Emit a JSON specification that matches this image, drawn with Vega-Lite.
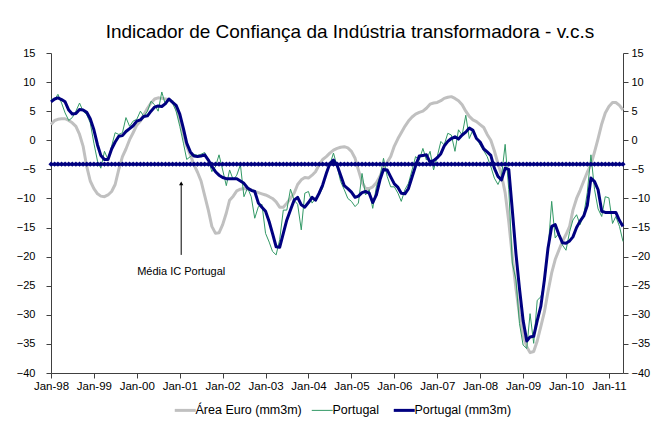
{
"$schema": "https://vega.github.io/schema/vega-lite/v6.json",
"autosize": "none",
"width": 572,
"height": 320,
"padding": {"left": 51, "top": 53, "right": 37, "bottom": 48},
"background": "white",
"config": {
 "view": {"stroke": null},
 "font": "Liberation Sans",
 "axis": {"grid": false, "domainColor": "#404040", "tickColor": "#404040", "labelColor": "#000000", "labelFont": "Liberation Sans", "labelFontSize": 11, "tickSize": 5, "title": null}
},
"title": {"text": "Indicador de Confiança da Indústria transformadora - v.c.s", "font": "Liberation Sans", "fontSize": 19, "fontWeight": "normal", "color": "#000000", "offset": 5, "dx": 13},
"datasets": {
 "ic": [
{"d":"1998-01-01","e":2.7,"p":7.1,"p3":6.6},
{"d":"1998-02-01","e":3.4,"p":7.0,"p3":7.1},
{"d":"1998-03-01","e":3.6,"p":7.9,"p3":7.3},
{"d":"1998-04-01","e":3.7,"p":6.4,"p3":7.0},
{"d":"1998-05-01","e":3.7,"p":4.7,"p3":6.6},
{"d":"1998-06-01","e":3.4,"p":3.4,"p3":5.2},
{"d":"1998-07-01","e":3.0,"p":3.9,"p3":4.5},
{"d":"1998-08-01","e":2.4,"p":5.0,"p3":4.6},
{"d":"1998-09-01","e":1.0,"p":6.4,"p3":5.3},
{"d":"1998-10-01","e":-1.0,"p":5.0,"p3":5.2},
{"d":"1998-11-01","e":-4.5,"p":4.4,"p3":4.8},
{"d":"1998-12-01","e":-7.0,"p":3.0,"p3":3.7},
{"d":"1999-01-01","e":-8.3,"p":-0.5,"p3":1.8},
{"d":"1999-02-01","e":-9.2,"p":-3.6,"p3":-0.8},
{"d":"1999-03-01","e":-9.6,"p":-4.8,"p3":-2.6},
{"d":"1999-04-01","e":-9.7,"p":-1.9,"p3":-3.3},
{"d":"1999-05-01","e":-9.4,"p":-3.3,"p3":-3.3},
{"d":"1999-06-01","e":-8.8,"p":-1.0,"p3":-1.5},
{"d":"1999-07-01","e":-7.6,"p":1.3,"p3":-0.3},
{"d":"1999-08-01","e":-5.0,"p":1.0,"p3":0.7},
{"d":"1999-09-01","e":-2.8,"p":1.3,"p3":0.8},
{"d":"1999-10-01","e":-1.5,"p":3.9,"p3":1.5},
{"d":"1999-11-01","e":0.1,"p":2.4,"p3":2.0},
{"d":"1999-12-01","e":1.3,"p":3.3,"p3":2.5},
{"d":"2000-01-01","e":2.6,"p":3.6,"p3":3.3},
{"d":"2000-02-01","e":3.3,"p":5.0,"p3":3.5},
{"d":"2000-03-01","e":4.4,"p":4.1,"p3":4.1},
{"d":"2000-04-01","e":5.5,"p":5.0,"p3":4.2},
{"d":"2000-05-01","e":6.4,"p":6.7,"p3":5.0},
{"d":"2000-06-01","e":7.1,"p":6.1,"p3":5.7},
{"d":"2000-07-01","e":7.3,"p":5.0,"p3":5.9},
{"d":"2000-08-01","e":7.2,"p":8.3,"p3":5.8},
{"d":"2000-09-01","e":7.1,"p":6.1,"p3":6.3},
{"d":"2000-10-01","e":7.0,"p":7.0,"p3":7.1},
{"d":"2000-11-01","e":6.6,"p":6.4,"p3":6.5},
{"d":"2000-12-01","e":5.5,"p":5.0,"p3":6.0},
{"d":"2001-01-01","e":3.6,"p":2.4,"p3":4.5},
{"d":"2001-02-01","e":1.0,"p":-0.5,"p3":2.0},
{"d":"2001-03-01","e":-1.0,"p":-3.3,"p3":-0.5},
{"d":"2001-04-01","e":-2.5,"p":-2.8,"p3":-2.0},
{"d":"2001-05-01","e":-4.2,"p":-2.4,"p3":-2.7},
{"d":"2001-06-01","e":-5.5,"p":-2.6,"p3":-2.8},
{"d":"2001-07-01","e":-7.0,"p":-2.4,"p3":-2.7},
{"d":"2001-08-01","e":-9.5,"p":-2.1,"p3":-2.5},
{"d":"2001-09-01","e":-12.0,"p":-3.4,"p3":-3.4},
{"d":"2001-10-01","e":-14.8,"p":-5.4,"p3":-4.5},
{"d":"2001-11-01","e":-16.0,"p":-4.5,"p3":-5.4},
{"d":"2001-12-01","e":-15.9,"p":-2.5,"p3":-6.0},
{"d":"2002-01-01","e":-14.5,"p":-5.1,"p3":-6.4},
{"d":"2002-02-01","e":-12.5,"p":-7.8,"p3":-6.6},
{"d":"2002-03-01","e":-10.3,"p":-5.1,"p3":-6.6},
{"d":"2002-04-01","e":-9.6,"p":-6.8,"p3":-6.6},
{"d":"2002-05-01","e":-8.7,"p":-6.0,"p3":-6.6},
{"d":"2002-06-01","e":-8.4,"p":-4.2,"p3":-7.0},
{"d":"2002-07-01","e":-8.3,"p":-9.7,"p3":-7.4},
{"d":"2002-08-01","e":-8.4,"p":-8.2,"p3":-8.2},
{"d":"2002-09-01","e":-8.5,"p":-9.7,"p3":-8.6},
{"d":"2002-10-01","e":-8.8,"p":-13.4,"p3":-8.8},
{"d":"2002-11-01","e":-9.0,"p":-11.4,"p3":-10.8},
{"d":"2002-12-01","e":-9.2,"p":-11.0,"p3":-11.5},
{"d":"2003-01-01","e":-9.4,"p":-16.0,"p3":-12.2},
{"d":"2003-02-01","e":-9.7,"p":-17.5,"p3":-14.0},
{"d":"2003-03-01","e":-10.0,"p":-19.1,"p3":-16.0},
{"d":"2003-04-01","e":-10.6,"p":-19.7,"p3":-18.3},
{"d":"2003-05-01","e":-11.5,"p":-17.1,"p3":-18.4},
{"d":"2003-06-01","e":-11.5,"p":-12.0,"p3":-16.0},
{"d":"2003-07-01","e":-10.8,"p":-12.0,"p3":-13.7},
{"d":"2003-08-01","e":-10.0,"p":-8.4,"p3":-12.0},
{"d":"2003-09-01","e":-9.1,"p":-10.3,"p3":-10.3},
{"d":"2003-10-01","e":-7.6,"p":-11.0,"p3":-9.8},
{"d":"2003-11-01","e":-6.8,"p":-15.4,"p3":-11.1},
{"d":"2003-12-01","e":-6.4,"p":-9.1,"p3":-11.5},
{"d":"2004-01-01","e":-6.5,"p":-8.8,"p3":-10.7},
{"d":"2004-02-01","e":-6.0,"p":-10.8,"p3":-9.8},
{"d":"2004-03-01","e":-5.4,"p":-10.0,"p3":-10.3},
{"d":"2004-04-01","e":-4.2,"p":-9.4,"p3":-9.1},
{"d":"2004-05-01","e":-3.3,"p":-8.2,"p3":-7.7},
{"d":"2004-06-01","e":-2.8,"p":-5.4,"p3":-5.7},
{"d":"2004-07-01","e":-2.2,"p":-4.2,"p3":-4.0},
{"d":"2004-08-01","e":-1.7,"p":-2.2,"p3":-3.4},
{"d":"2004-09-01","e":-1.4,"p":-4.5,"p3":-4.3},
{"d":"2004-10-01","e":-1.2,"p":-7.1,"p3":-6.0},
{"d":"2004-11-01","e":-1.1,"p":-8.5,"p3":-7.8},
{"d":"2004-12-01","e":-1.3,"p":-10.0,"p3":-8.3},
{"d":"2005-01-01","e":-1.9,"p":-10.5,"p3":-8.9},
{"d":"2005-02-01","e":-3.1,"p":-11.4,"p3":-9.8},
{"d":"2005-03-01","e":-5.1,"p":-10.8,"p3":-9.6},
{"d":"2005-04-01","e":-7.2,"p":-5.7,"p3":-9.0},
{"d":"2005-05-01","e":-8.3,"p":-9.4,"p3":-8.8},
{"d":"2005-06-01","e":-8.3,"p":-8.5,"p3":-9.1},
{"d":"2005-07-01","e":-8.0,"p":-11.7,"p3":-10.7},
{"d":"2005-08-01","e":-7.3,"p":-8.0,"p3":-9.4},
{"d":"2005-09-01","e":-6.2,"p":-6.2,"p3":-6.8},
{"d":"2005-10-01","e":-4.7,"p":-3.1,"p3":-5.0},
{"d":"2005-11-01","e":-3.8,"p":-6.2,"p3":-5.1},
{"d":"2005-12-01","e":-2.8,"p":-8.0,"p3":-6.3},
{"d":"2006-01-01","e":-1.0,"p":-8.0,"p3":-7.5},
{"d":"2006-02-01","e":0.3,"p":-9.1,"p3":-8.1},
{"d":"2006-03-01","e":1.3,"p":-10.5,"p3":-9.1},
{"d":"2006-04-01","e":2.4,"p":-8.5,"p3":-9.2},
{"d":"2006-05-01","e":3.3,"p":-7.4,"p3":-8.3},
{"d":"2006-06-01","e":4.0,"p":-5.1,"p3":-6.3},
{"d":"2006-07-01","e":4.5,"p":-2.8,"p3":-4.4},
{"d":"2006-08-01","e":4.8,"p":-3.4,"p3":-2.7},
{"d":"2006-09-01","e":5.0,"p":-1.4,"p3":-2.6},
{"d":"2006-10-01","e":5.5,"p":-3.4,"p3":-2.5},
{"d":"2006-11-01","e":6.2,"p":-1.9,"p3":-3.8},
{"d":"2006-12-01","e":6.4,"p":-5.1,"p3":-3.5},
{"d":"2007-01-01","e":6.5,"p":-2.8,"p3":-3.0},
{"d":"2007-02-01","e":6.8,"p":-0.2,"p3":-2.3},
{"d":"2007-03-01","e":7.2,"p":-0.8,"p3":-1.0},
{"d":"2007-04-01","e":7.4,"p":1.2,"p3":-0.2},
{"d":"2007-05-01","e":7.5,"p":0.9,"p3":0.3},
{"d":"2007-06-01","e":7.2,"p":-1.9,"p3":0.6},
{"d":"2007-07-01","e":6.8,"p":1.8,"p3":0.2},
{"d":"2007-08-01","e":6.1,"p":0.9,"p3":0.9},
{"d":"2007-09-01","e":5.0,"p":4.3,"p3":1.4},
{"d":"2007-10-01","e":4.1,"p":0.3,"p3":2.1},
{"d":"2007-11-01","e":3.5,"p":1.8,"p3":1.7},
{"d":"2007-12-01","e":3.2,"p":0.3,"p3":0.3},
{"d":"2008-01-01","e":2.7,"p":-0.8,"p3":-0.3},
{"d":"2008-02-01","e":2.2,"p":-1.8,"p3":-1.5},
{"d":"2008-03-01","e":1.0,"p":-2.8,"p3":-2.0},
{"d":"2008-04-01","e":0.0,"p":-4.5,"p3":-2.6},
{"d":"2008-05-01","e":-1.8,"p":-6.5,"p3":-4.8},
{"d":"2008-06-01","e":-4.0,"p":-7.6,"p3":-6.2},
{"d":"2008-07-01","e":-6.0,"p":-6.2,"p3":-6.8},
{"d":"2008-08-01","e":-9.0,"p":-0.7,"p3":-4.8},
{"d":"2008-09-01","e":-14.0,"p":-8.5,"p3":-5.0},
{"d":"2008-10-01","e":-20.0,"p":-21.1,"p3":-12.0},
{"d":"2008-11-01","e":-25.5,"p":-24.0,"p3":-19.5},
{"d":"2008-12-01","e":-30.0,"p":-31.5,"p3":-25.5},
{"d":"2009-01-01","e":-33.5,"p":-35.2,"p3":-31.0},
{"d":"2009-02-01","e":-35.5,"p":-35.8,"p3":-34.5},
{"d":"2009-03-01","e":-36.5,"p":-29.8,"p3":-33.8},
{"d":"2009-04-01","e":-36.3,"p":-34.9,"p3":-33.7},
{"d":"2009-05-01","e":-34.5,"p":-27.5,"p3":-31.0},
{"d":"2009-06-01","e":-32.0,"p":-26.9,"p3":-28.5},
{"d":"2009-07-01","e":-29.5,"p":-24.6,"p3":-24.0},
{"d":"2009-08-01","e":-26.0,"p":-18.9,"p3":-18.5},
{"d":"2009-09-01","e":-22.8,"p":-10.5,"p3":-14.8},
{"d":"2009-10-01","e":-20.5,"p":-16.8,"p3":-14.5},
{"d":"2009-11-01","e":-18.9,"p":-16.0,"p3":-16.2},
{"d":"2009-12-01","e":-17.4,"p":-18.0,"p3":-17.6},
{"d":"2010-01-01","e":-16.2,"p":-18.9,"p3":-17.7},
{"d":"2010-02-01","e":-14.8,"p":-15.7,"p3":-17.3},
{"d":"2010-03-01","e":-12.0,"p":-13.7,"p3":-16.6},
{"d":"2010-04-01","e":-10.0,"p":-12.8,"p3":-15.0},
{"d":"2010-05-01","e":-8.6,"p":-14.5,"p3":-13.9},
{"d":"2010-06-01","e":-7.0,"p":-12.8,"p3":-13.0},
{"d":"2010-07-01","e":-5.5,"p":-9.0,"p3":-11.2},
{"d":"2010-08-01","e":-4.2,"p":-2.5,"p3":-6.5},
{"d":"2010-09-01","e":-2.0,"p":-8.5,"p3":-7.1},
{"d":"2010-10-01","e":0.3,"p":-11.8,"p3":-8.5},
{"d":"2010-11-01","e":2.8,"p":-13.1,"p3":-12.2},
{"d":"2010-12-01","e":4.7,"p":-9.7,"p3":-12.4},
{"d":"2011-01-01","e":5.8,"p":-9.9,"p3":-12.4},
{"d":"2011-02-01","e":6.5,"p":-14.3,"p3":-12.4},
{"d":"2011-03-01","e":6.5,"p":-13.1,"p3":-12.4},
{"d":"2011-04-01","e":6.0,"p":-14.8,"p3":-13.8},
{"d":"2011-05-01","e":5.2,"p":-17.4,"p3":-14.8}
 ],
 "ann": [
  {"d":"2001-01-13","y1":-7.4,"y2":-19.7,"ty":-22.6,"t":"Média IC Portugal"}
 ]
},
"resolve": {"scale": {"y": "shared", "color": "shared"}, "axis": {"y": "independent"}},
"layer": [
 {
  "data": {"name": "ic"},
  "mark": {"type": "line", "strokeWidth": 3, "strokeJoin": "round"},
  "encoding": {
   "x": {"field": "d", "type": "temporal", "scale": {"type": "utc", "domain": ["1998-01-01", "2011-05-01"]},
         "axis": {"orient": "bottom", "labelExpr": "utcFormat(datum.value, '%b-%y')", "values": [
           {"year": 1998, "month": 1, "date": 1, "utc": true}, {"year": 1999, "month": 1, "date": 1, "utc": true},
           {"year": 2000, "month": 1, "date": 1, "utc": true}, {"year": 2001, "month": 1, "date": 1, "utc": true},
           {"year": 2002, "month": 1, "date": 1, "utc": true}, {"year": 2003, "month": 1, "date": 1, "utc": true},
           {"year": 2004, "month": 1, "date": 1, "utc": true}, {"year": 2005, "month": 1, "date": 1, "utc": true},
           {"year": 2006, "month": 1, "date": 1, "utc": true}, {"year": 2007, "month": 1, "date": 1, "utc": true},
           {"year": 2008, "month": 1, "date": 1, "utc": true}, {"year": 2009, "month": 1, "date": 1, "utc": true},
           {"year": 2010, "month": 1, "date": 1, "utc": true}, {"year": 2011, "month": 1, "date": 1, "utc": true}],
           "labelPadding": 2, "labelFontSize": 11.5, "labelFlush": false, "labelOverlap": false}},
   "y": {"field": "e", "type": "quantitative", "scale": {"domain": [-40, 15], "nice": false, "zero": false},
         "axis": {"orient": "left", "values": [-40,-35,-30,-25,-20,-15,-10,-5,0,5,10,15], "labelPadding": 11}},
   "color": {"datum": "Área Euro (mm3m)", "type": "nominal",
             "scale": {"domain": ["Área Euro (mm3m)", "Portugal", "Portugal (mm3m)"], "range": ["#C0C0C0", "#339966", "#000080"]},
             "legend": {"title": null, "orient": "none", "legendX": 128, "legendY": 351, "direction": "horizontal", "symbolType": "stroke", "symbolSize": 440, "symbolStrokeWidth": 3, "labelFontSize": 12.5, "labelFont": "Liberation Sans", "labelColor": "#000000", "columnPadding": 7, "labelOffset": 4,
                        "encode": {"symbols": {"update": {"strokeWidth": {"signal": "datum.value == 'Portugal' ? 1 : 3"}}}}}}
  }
 },
 {
  "data": {"name": "ic"},
  "mark": {"type": "line", "strokeWidth": 1, "strokeJoin": "round"},
  "encoding": {
   "x": {"field": "d", "type": "temporal"},
   "y": {"field": "p", "type": "quantitative", "axis": null},
   "color": {"datum": "Portugal", "type": "nominal"}
  }
 },
 {
  "data": {"name": "ic"},
  "mark": {"type": "line", "strokeWidth": 3, "strokeJoin": "round"},
  "encoding": {
   "x": {"field": "d", "type": "temporal"},
   "y": {"field": "p3", "type": "quantitative", "axis": null},
   "color": {"datum": "Portugal (mm3m)", "type": "nominal"}
  }
 },
 {
  "data": {"name": "ic"},
  "mark": {"type": "line", "color": "#000080", "strokeWidth": 3},
  "encoding": {
   "x": {"field": "d", "type": "temporal"},
   "y": {"datum": -4.1, "type": "quantitative", "axis": {"orient": "right", "values": [-40,-35,-30,-25,-20,-15,-10,-5,0,5,10,15], "labelPadding": 3}}
  }
 },
 {
  "data": {"name": "ic"},
  "mark": {"type": "point", "shape": "diamond", "filled": true, "color": "#000080", "size": 26, "opacity": 1},
  "encoding": {
   "x": {"field": "d", "type": "temporal"},
   "y": {"datum": -4.1, "type": "quantitative", "axis": null}
  }
 },
 {
  "data": {"name": "ann"},
  "mark": {"type": "rule", "color": "#000000", "strokeWidth": 1},
  "encoding": {
   "x": {"field": "d", "type": "temporal"},
   "y": {"field": "y1", "type": "quantitative", "axis": null},
   "y2": {"field": "y2"}
  }
 },
 {
  "data": {"name": "ann"},
  "mark": {"type": "point", "shape": "triangle-up", "filled": true, "color": "#000000", "size": 18, "opacity": 1},
  "encoding": {
   "x": {"field": "d", "type": "temporal"},
   "y": {"field": "y1", "type": "quantitative", "axis": null}
  }
 },
 {
  "data": {"name": "ann"},
  "mark": {"type": "text", "font": "Liberation Sans", "fontSize": 11, "color": "#000000", "align": "center", "baseline": "middle"},
  "encoding": {
   "x": {"field": "d", "type": "temporal"},
   "y": {"field": "ty", "type": "quantitative", "axis": null},
   "text": {"field": "t"}
  }
 }
]
}
